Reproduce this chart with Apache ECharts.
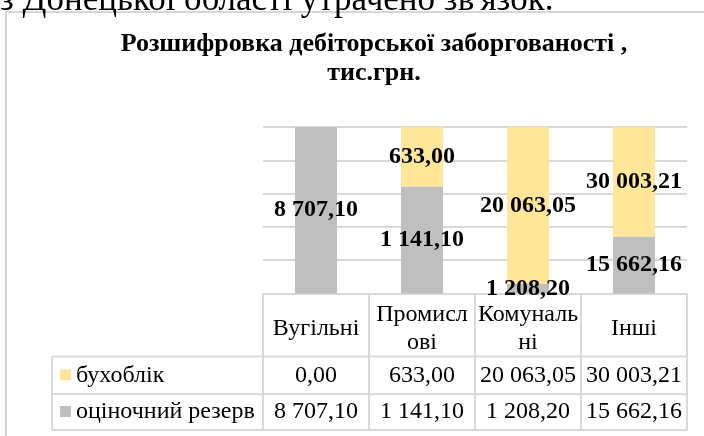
<!DOCTYPE html>
<html>
<head>
<meta charset="utf-8">
<script src="https://cdn.jsdelivr.net/npm/echarts@6/dist/echarts.min.js"></script>
<style>
  html, body { margin: 0; padding: 0; background: #fff; }
  #chart { width: 704px; height: 436px; }
</style>
</head>
<body>
<div id="chart"></div>
<script>
// values
const categoryLabels = ['Вугільні', 'Промисл\nові', 'Комуналь\nні', 'Інші']
const seriesNames = ['бухоблік', 'оціночний резерв']
const buhoblik = [0.00, 633.00, 20063.05, 30003.21]
const reserve = [8707.10, 1141.10, 1208.20, 15662.16]
const yTicks = [0, 20, 40, 60, 80, 100]

const colors = { buhoblik: '#FFE699', reserve: '#BFBFBF', line: '#d9d9d9' }
const serif = 'Liberation Serif'

// plot / table geometry
const gridLeft = 263
const gridRight = 687
const gridTop = 127
const gridBottom = 293.5
const colW = (gridRight - gridLeft) / categoryLabels.length
const tableLeft = 52
const headerBottom = 356.5
const rowLines = [356.5, 394, 430]

const fmt = (v) => {
  const [i, d] = v.toFixed(2).split('.')
  return i.replace(/\B(?=(\d{3})+(?!\d))/g, ' ') + ',' + d
}

// 100% stacked shares
const totals = buhoblik.map((v, i) => v + reserve[i])
const pctBuh = buhoblik.map((v, i) => (v / totals[i]) * 100)
const pctRes = reserve.map((v, i) => (v / totals[i]) * 100)

const chart = echarts.init(document.getElementById('chart'), null, { renderer: 'canvas' })

const labelStyle = (raw) => ({
  show: true,
  position: 'inside',
  color: '#000',
  fontFamily: serif,
  fontWeight: 'bold',
  fontSize: 24,
  formatter: (p) => (raw[p.dataIndex] ? fmt(raw[p.dataIndex]) : '')
})

const textStyle = (size, extra) =>
  Object.assign({ fill: '#000', fontFamily: serif, fontSize: size }, extra)

// frame, titles and the table body drawn with graphic elements
const graphic = []
graphic.push({
  type: 'rect',
  shape: { x: 6, y: 12, width: 760, height: 480 },
  style: { fill: '#fff', stroke: '#d6d6d6', lineWidth: 2 },
  z: -10
})
// clipped document text above the chart
graphic.push({
  type: 'text',
  x: 0,
  y: 1,
  style: textStyle(35, { text: "з Донецької області утрачено зв'язок.", verticalAlign: 'middle' })
})
graphic.push({
  type: 'text',
  x: 374,
  y: 30,
  style: textStyle(26, {
    text: 'Розшифровка дебіторської заборгованості ,\nтис.грн.',
    fontWeight: 'bold',
    align: 'center',
    lineHeight: 29
  })
})
rowLines.forEach((y) => {
  graphic.push({
    type: 'line',
    shape: { x1: tableLeft, y1: y, x2: gridRight, y2: y },
    style: { stroke: colors.line, lineWidth: 2 }
  })
})
const colXs = [tableLeft].concat(categoryLabels.map((_, i) => gridLeft + i * colW), [gridRight])
colXs.forEach((x) => {
  graphic.push({
    type: 'line',
    shape: { x1: x, y1: headerBottom, x2: x, y2: rowLines[rowLines.length - 1] },
    style: { stroke: colors.line, lineWidth: 2 }
  })
})
const rows = [
  { name: seriesNames[0], values: buhoblik, color: colors.buhoblik },
  { name: seriesNames[1], values: reserve, color: colors.reserve }
]
rows.forEach((row, r) => {
  const cy = (rowLines[r] + rowLines[r + 1]) / 2
  graphic.push({
    type: 'rect',
    shape: { x: 60, y: cy - 6, width: 11, height: 11 },
    style: { fill: row.color }
  })
  graphic.push({
    type: 'text',
    x: 76,
    y: cy,
    style: textStyle(24, { text: row.name, verticalAlign: 'middle' })
  })
  row.values.forEach((v, i) => {
    graphic.push({
      type: 'text',
      x: gridLeft + (i + 0.5) * colW,
      y: cy,
      style: textStyle(24, { text: fmt(v), align: 'center', verticalAlign: 'middle' })
    })
  })
})

chart.setOption({
  animation: false,
  backgroundColor: '#fff',
  grid: { left: gridLeft, right: 704 - gridRight, top: gridTop, bottom: 436 - gridBottom },
  xAxis: {
    type: 'category',
    data: categoryLabels,
    axisLine: { lineStyle: { color: colors.line, width: 2 } },
    axisTick: {
      show: true,
      interval: 0,
      length: headerBottom - gridBottom,
      lineStyle: { color: colors.line, width: 2 }
    },
    axisLabel: {
      interval: 0,
      margin: (headerBottom - gridBottom) / 2 + 4,
      verticalAlign: 'middle',
      color: '#000',
      fontFamily: serif,
      fontSize: 24,
      lineHeight: 28
    }
  },
  yAxis: {
    type: 'value',
    min: yTicks[0],
    max: yTicks[yTicks.length - 1],
    interval: yTicks[1] - yTicks[0],
    axisLabel: { show: false },
    axisLine: { show: false },
    axisTick: { show: false },
    splitLine: { lineStyle: { color: colors.line, width: 2 } }
  },
  series: [
    {
      name: seriesNames[1],
      type: 'bar',
      stack: 'total',
      barWidth: 42,
      itemStyle: { color: colors.reserve },
      label: labelStyle(reserve),
      data: pctRes
    },
    {
      name: seriesNames[0],
      type: 'bar',
      stack: 'total',
      barWidth: 42,
      itemStyle: { color: colors.buhoblik },
      label: labelStyle(buhoblik),
      data: pctBuh
    }
  ],
  graphic: graphic
})
</script>
</body>
</html>
